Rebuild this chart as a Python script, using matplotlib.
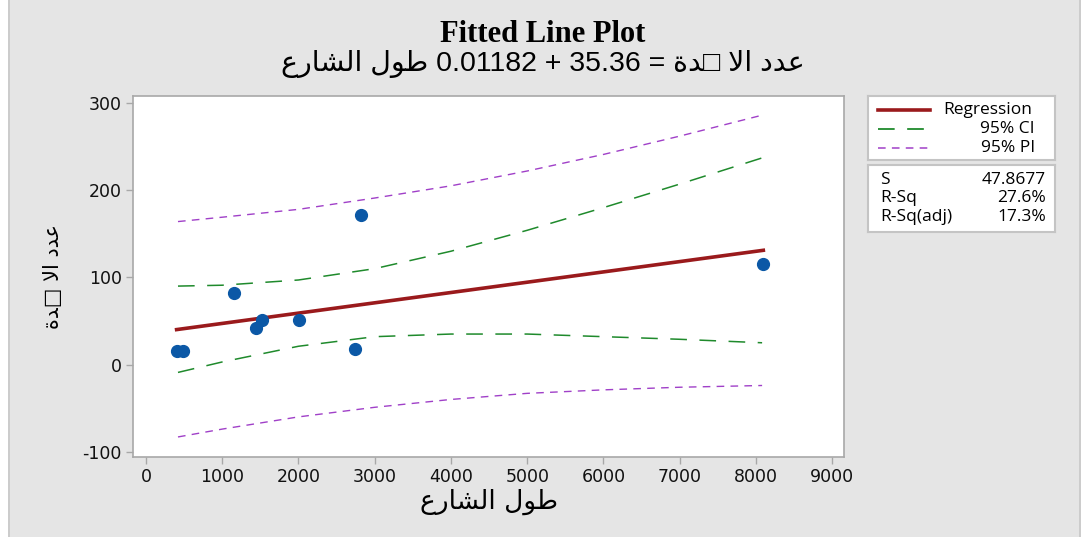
import numpy as np
import matplotlib.pyplot as plt
from matplotlib.patches import Rectangle
from matplotlib.lines import Line2D

plt.rcParams['lines.scale_dashes'] = False
plt.rcParams['axes.unicode_minus'] = False

# street length vs count (observations)
street_len = [402, 490, 1154, 1443, 1521, 2011, 2745, 2815, 8096]
count = [16, 16, 82, 42, 51, 51, 18, 172, 115]

# fitted equation
b0, b1 = 35.36, 0.01182

# confidence / prediction bands
band_x = [420, 1000, 2000, 3000, 4000, 5000, 6000, 7000, 8080]
ci_upper = [90, 91, 97, 110, 130, 154, 180, 207, 237]
ci_lower = [-9, 3, 21, 32, 35, 35, 32, 29, 25]
pi_upper = [164, 169, 178, 191, 205, 222, 241, 262, 286]
pi_lower = [-83, -74, -60, -49, -40, -33, -29, -26, -24]

stats_names = ['S', 'R-Sq', 'R-Sq(adj)']
stats_vals = ['47.8677', '27.6%', '17.3%']

# Arabic strings in display order (presentation forms)
x_name = '\ufec9\ufead\ufe8e\ufeb8\ufedf\ufe8d \ufedd\ufeee\ufec3'
y_name = '\ufe93\ufeaa\u25a1 \ufefb\ufe8d \ufea9\ufeaa\ufecb'

reg_col = '#9a1a1c'
ci_col = '#1f8a2c'
pi_col = '#a040c8'
pt_col = '#0b58a6'
edge_col = '#a8a8a8'
bg = '#e5e5e5'

W, H = 1081, 537
fig = plt.figure(figsize=(W / 100, H / 100), dpi=100, facecolor=bg)

# thin white strip and frame line on the left
fig.patches.append(Rectangle((0, 0), 8 / W, 1, transform=fig.transFigure,
                             facecolor='white', edgecolor='none', zorder=-5))
fig.add_artist(Line2D([8.5 / W, 8.5 / W], [0, 1], color='#c8c8c8', lw=1.2))
fig.add_artist(Line2D([1079.5 / W, 1079.5 / W], [0, 1], color='#c8c8c8', lw=1.2))

ax = fig.add_axes([133 / W, 1 - 457 / H, (844 - 133) / W, (457 - 96) / H])
ax.set_facecolor('white')

xs = np.linspace(min(street_len), max(street_len), 100)
ax.plot(xs, b0 + b1 * xs, color=reg_col, lw=2.6, zorder=3)
ax.plot(band_x, ci_upper, color=ci_col, lw=1.1, dashes=(12, 9))
ax.plot(band_x, ci_lower, color=ci_col, lw=1.1, dashes=(12, 9))
ax.plot(band_x, pi_upper, color=pi_col, lw=1.0, dashes=(5.5, 4.5))
ax.plot(band_x, pi_lower, color=pi_col, lw=1.0, dashes=(5.5, 4.5))
ax.plot(street_len, count, 'o', color=pt_col, ms=8.5, mec=pt_col, zorder=4)

ax.set_xlim(-170, 9154)
ax.set_ylim(-106, 308)
ax.set_xticks(np.arange(0, 9001, 1000))
ax.set_yticks([-100, 0, 100, 200, 300])
for s in ax.spines.values():
    s.set_color(edge_col)
    s.set_linewidth(1.2)
ax.tick_params(direction='out', length=5, width=1, color=edge_col,
               labelsize=12.5, labelcolor='#111111', pad=3)
for lab in ax.get_xticklabels() + ax.get_yticklabels():
    lab.set_family('DejaVu Sans')

ax.set_xlabel(x_name, family=['DejaVu Sans'], fontsize=19, labelpad=2)
ax.set_ylabel(y_name, family=['DejaVu Sans'], fontsize=15, labelpad=14)

fig.text(543 / W, 1 - 35 / H, 'Fitted Line Plot', ha='center', va='center',
         family='Liberation Serif', weight='bold', fontsize=22)
fig.text(543 / W, 1 - 64 / H,
         x_name + ' 0.01182 + 35.36 = ' + y_name,
         ha='center', va='center', family=['Liberation Sans', 'DejaVu Sans'],
         fontsize=20.5)

# legend box
lg = fig.add_axes([868 / W, 1 - 160 / H, (1055 - 868) / W, (160 - 96) / H])
lg.set_xlim(868, 1055)
lg.set_ylim(160, 96)
lg.set_xticks([])
lg.set_yticks([])
for s in lg.spines.values():
    s.set_color('#c4c4c4')
    s.set_linewidth(1.5)
lg.plot([878, 930], [110, 110], color=reg_col, lw=2.6)
lg.plot([878, 930], [129, 129], color=ci_col, lw=1.3, dashes=(12, 9))
lg.plot([878, 930], [148, 148], color=pi_col, lw=1.1, dashes=(5.5, 4.5))
lg.text(943, 110, 'Regression', va='center', ha='left', family='Open Sans', fontsize=12.5)
lg.text(1035, 129, '95% CI', va='center', ha='right', family='Open Sans', fontsize=12.5)
lg.text(1035, 148, '95% PI', va='center', ha='right', family='Open Sans', fontsize=12.5)

# summary statistics box
sb = fig.add_axes([868 / W, 1 - 232 / H, (1055 - 868) / W, (232 - 165) / H])
sb.set_xlim(868, 1055)
sb.set_ylim(232, 165)
sb.set_xticks([])
sb.set_yticks([])
for s in sb.spines.values():
    s.set_color('#c4c4c4')
    s.set_linewidth(1.5)
for i, (nm, v) in enumerate(zip(stats_names, stats_vals)):
    yy = 180 + i * 18.5
    sb.text(880, yy, nm, va='center', ha='left', family='Open Sans', fontsize=12.5)
    sb.text(1046, yy, v, va='center', ha='right', family='Open Sans', fontsize=12.5)

fig.savefig('out.png', dpi=100, facecolor=bg)
